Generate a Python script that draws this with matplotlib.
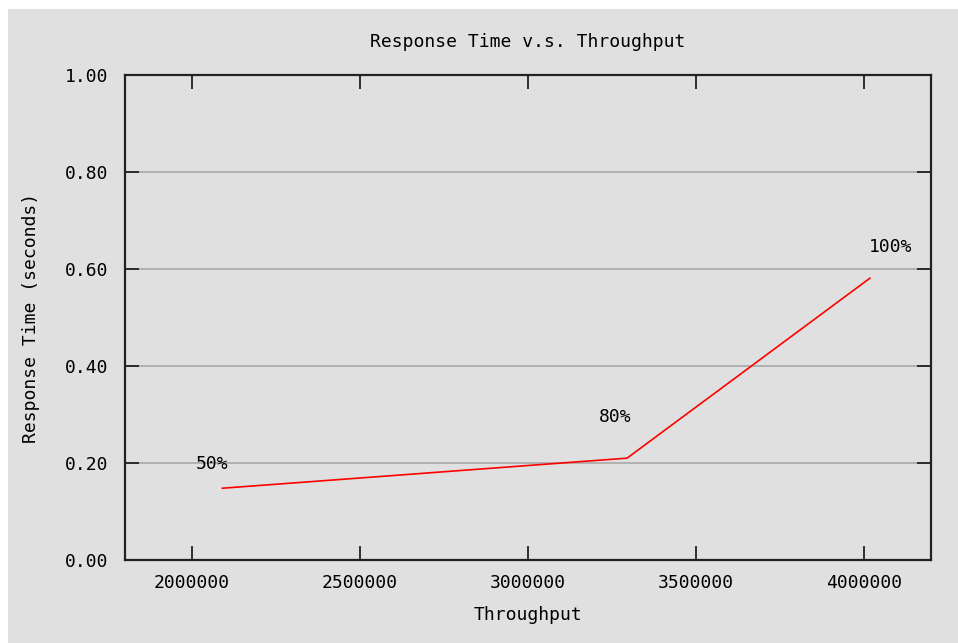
import matplotlib.pyplot as plt
from matplotlib.patches import Rectangle

throughput = [2090000, 3295000, 4018000]
resp_time = [0.148, 0.210, 0.581]
load_labels = ["50%", "80%", "100%"]
label_x = [2060000, 3260000, 4080000]
label_y = [0.198, 0.295, 0.645]

xticks = [2000000, 2500000, 3000000, 3500000, 4000000]
yticks = [0.0, 0.2, 0.4, 0.6, 0.8, 1.0]

bg = "#e0e0e0"
font = "DejaVu Sans Mono"
fs = 13

fig = plt.figure(figsize=(9.58, 6.43), dpi=100, facecolor="white")
fig.patches.append(Rectangle((8 / 958, 0), 1, 1 - 9 / 643,
                             transform=fig.transFigure, facecolor=bg,
                             edgecolor="none", zorder=-10))

ax = fig.add_axes([125 / 958, 1 - 560 / 643, 806 / 958, 485 / 643])
ax.set_facecolor(bg)

ax.plot(throughput, resp_time, color="red", linewidth=1.2)
for x, y, s in zip(label_x, label_y, load_labels):
    ax.text(x, y, s, ha="center", va="center", family=font, fontsize=fs,
            color="black")

ax.set_xlim(1800000, 4200000)
ax.set_ylim(0, 1)
ax.set_xticks(xticks)
ax.set_xticklabels([str(v) for v in xticks], family=font, fontsize=fs)
ax.set_yticks(yticks)
ax.set_yticklabels(["%.2f" % v for v in yticks], family=font, fontsize=fs)
ax.tick_params(direction="in", length=10, width=1.3, color="#222222",
               top=True, right=True)
ax.tick_params(axis="y", pad=12)
ax.tick_params(axis="x", pad=10)
ax.yaxis.grid(True, color="#a8a8a8", linewidth=1.2)
ax.set_axisbelow(True)
for sp in ax.spines.values():
    sp.set_color("#222222")
    sp.set_linewidth(1.6)

ax.set_title("Response Time v.s. Throughput", family=font, fontsize=fs,
             pad=20)
ax.set_xlabel("Throughput", family=font, fontsize=fs, labelpad=10)
ax.set_ylabel("Response Time (seconds)", family=font, fontsize=fs,
              labelpad=18)

fig.savefig("out.png", dpi=100, facecolor="white")
